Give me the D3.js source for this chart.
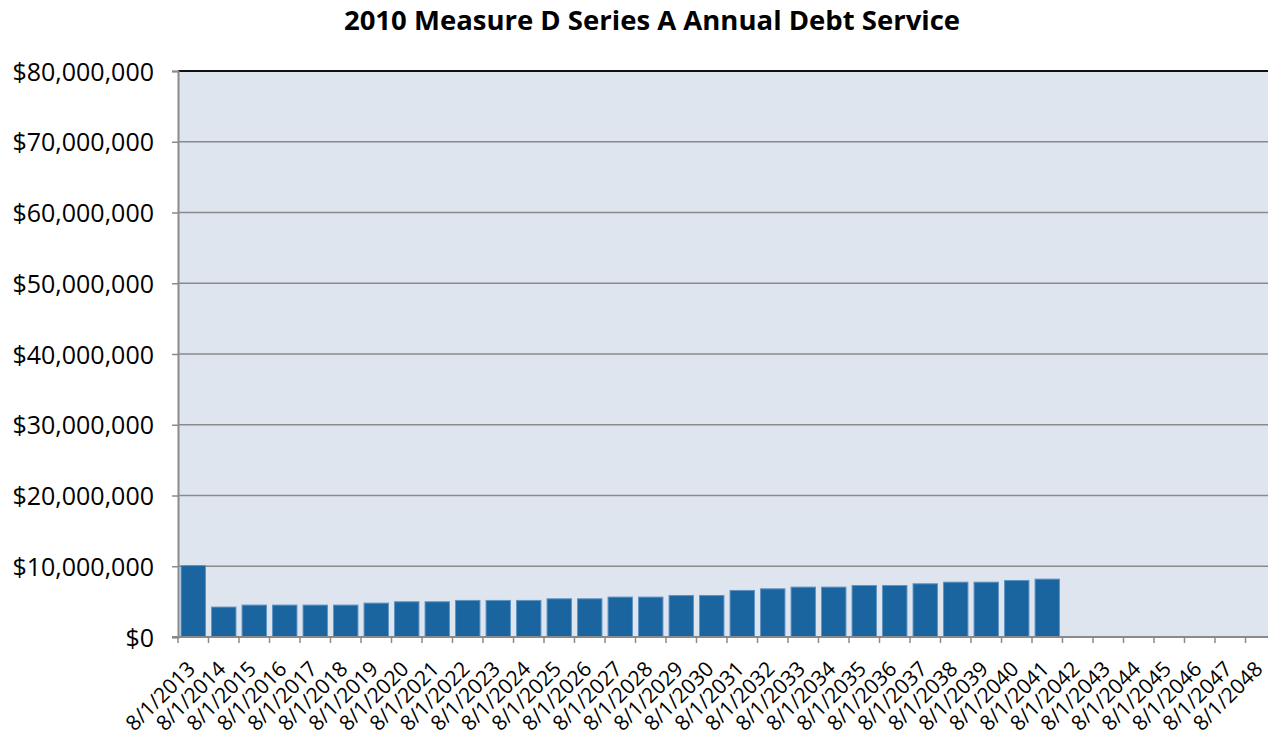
<!DOCTYPE html>
<html>
<head>
<meta charset="utf-8">
<script src="https://cdn.jsdelivr.net/npm/d3@7"></script>
<style>
  body { margin: 0; background: #fff; overflow: hidden; }
  text { font-family: "Open Sans", sans-serif; fill: #000; }
</style>
</head>
<body>
<div id="container"></div>
<script>
// Data
const years = d3.range(2013, 2049);
const categories = years.map(y => "8/1/" + y);
const debtService = [
  10100000, 4230000, 4510000, 4510000, 4510000, 4510000, 4790000, 4980000,
  4980000, 5170000, 5170000, 5170000, 5400000, 5400000, 5640000, 5640000,
  5870000, 5870000, 6580000, 6810000, 7050000, 7050000, 7280000, 7280000,
  7520000, 7750000, 7750000, 7990000, 8180000,
  0, 0, 0, 0, 0, 0, 0
];
const yTicks = [0, 10e6, 20e6, 30e6, 40e6, 50e6, 60e6, 70e6, 80e6];
const title = "2010 Measure D Series A Annual Debt Service";

const width = 1268, height = 736;
const margin = { top: 71, left: 178, bottom: 637 };
const plotRight = margin.left + 36 * 30.5;

const svg = d3.select("#container")
  .append("svg")
  .attr("width", width)
  .attr("height", height);

const x = d3.scaleBand()
  .domain(categories)
  .range([margin.left, plotRight])
  .paddingInner(0.2)
  .paddingOuter(0.1);

const y = d3.scaleLinear()
  .domain([0, 80e6])
  .range([margin.bottom, margin.top]);

// Plot background
svg.append("rect")
  .attr("x", margin.left)
  .attr("y", margin.top)
  .attr("width", plotRight - margin.left)
  .attr("height", margin.bottom - margin.top)
  .attr("fill", "#dfe5ef");

// Gridlines
svg.append("g")
  .selectAll("line")
  .data(yTicks.slice(1, -1))
  .join("line")
  .attr("x1", margin.left)
  .attr("x2", plotRight)
  .attr("y1", d => y(d))
  .attr("y2", d => y(d))
  .attr("stroke", "#8a8a8a")
  .attr("stroke-width", 1.5);

// Top border
svg.append("line")
  .attr("x1", margin.left)
  .attr("x2", plotRight)
  .attr("y1", y(80e6))
  .attr("y2", y(80e6))
  .attr("stroke", "#111")
  .attr("stroke-width", 2);

// Bars
svg.append("g")
  .selectAll("rect")
  .data(debtService.map((v, i) => ({ cat: categories[i], v: v })).filter(d => d.v > 0))
  .join("rect")
  .attr("x", d => x(d.cat))
  .attr("y", d => y(d.v))
  .attr("width", x.bandwidth())
  .attr("height", d => y(0) - y(d.v))
  .attr("fill", "#1a65a0")
  .attr("stroke", "#5f93c4")
  .attr("stroke-width", 1);

// Y axis
const yAxis = d3.axisLeft(y)
  .tickValues(yTicks)
  .tickSize(6)
  .tickPadding(18)
  .tickFormat(d => "$" + d3.format(",")(d));

const gy = svg.append("g")
  .attr("transform", "translate(" + margin.left + ",0)")
  .call(yAxis);
gy.select(".domain").attr("stroke", "#8a8a8a").attr("stroke-width", 2);
gy.selectAll(".tick line").attr("stroke", "#8a8a8a").attr("stroke-width", 1.5);
gy.selectAll(".tick text")
  .style("font-size", "25px")
  .attr("fill", "#000")
  .attr("dy", "0.36em");

// X axis line and ticks between categories
const step = x.step();
const gx = svg.append("g");
gx.append("line")
  .attr("x1", margin.left - 6)
  .attr("x2", plotRight)
  .attr("y1", margin.bottom)
  .attr("y2", margin.bottom)
  .attr("stroke", "#8a8a8a")
  .attr("stroke-width", 2);
gx.selectAll(".xtick")
  .data(categories)
  .join("line")
  .attr("class", "xtick")
  .attr("x1", d => x(d) - step * 0.1)
  .attr("x2", d => x(d) - step * 0.1)
  .attr("y1", margin.bottom)
  .attr("y2", margin.bottom + 6)
  .attr("stroke", "#8a8a8a")
  .attr("stroke-width", 1.5);

// X labels rotated
gx.selectAll(".xlabel")
  .data(categories)
  .join("text")
  .attr("class", "xlabel")
  .attr("transform", d => "translate(" + (x(d) + x.bandwidth() / 2 - 2) + "," + (margin.bottom + 28) + ") rotate(-45)")
  .attr("text-anchor", "end")
  .attr("dy", "0.35em")
  .style("font-size", "21px")
  .text(d => d);

// Title
svg.append("text")
  .attr("x", 652)
  .attr("y", 30)
  .attr("text-anchor", "middle")
  .style("font-size", "27.5px")
  .style("font-weight", "bold")
  .text(title);
</script>
</body>
</html>
